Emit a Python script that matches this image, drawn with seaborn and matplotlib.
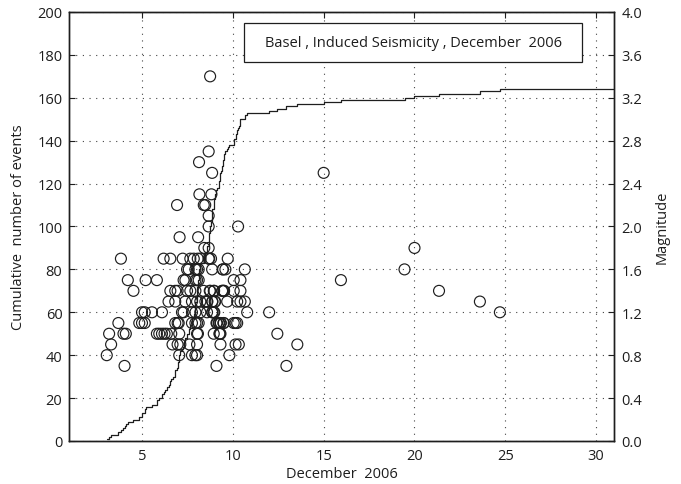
import numpy as np
import pandas as pd
import matplotlib
matplotlib.use("Agg")
import matplotlib.pyplot as plt
import seaborn as sns
from matplotlib.patches import Rectangle

# Basel induced seismicity, December 2006: event day and magnitude
event_day = [
    8.75,                                   # M 3.4
    8.67,                                   # M 2.7
    8.14,                                   # M 2.6
    8.86, 15.0,                             # M 2.5
    8.16, 8.82,                             # M 2.3
    6.93, 8.40, 8.48,                       # M 2.2
    8.67,                                   # M 2.1
    8.67, 10.29,                            # M 2.0
    7.07, 8.09,                             # M 1.9
    8.43, 8.67, 20.0,                       # M 1.8
    3.84, 6.19, 6.56, 7.24, 7.66, 7.85, 8.07, 8.22, 8.67, 8.70, 8.8, 9.72,
    7.48, 7.57, 7.94, 8.03, 8.12, 8.86, 9.44, 9.46, 9.59, 10.66, 19.45,
    4.22, 5.2, 5.82, 7.29, 7.39, 7.94, 8.03, 8.12, 10.05, 10.42, 15.95,
    4.53, 6.56, 6.83, 6.96, 7.48, 7.66, 7.94, 8.39, 8.73, 8.76, 8.95, 8.97,
    9.41, 9.43, 9.5, 9.52, 10.05, 10.42, 21.35,
    6.46, 6.83, 7.38, 7.75, 8.03, 8.21, 8.49, 8.58, 8.60, 8.86, 8.88, 9.0,
    9.03, 9.69, 10.24, 10.42, 10.66, 23.6,
    5.0, 5.15, 5.55, 6.1, 7.2, 7.29, 7.75, 7.94, 8.21, 8.58, 8.86, 8.88,
    8.95, 8.98, 10.79, 12.0, 24.7,
    3.7, 4.85, 5.0, 5.15, 6.83, 6.96, 7.02, 7.75, 7.94, 8.03, 8.12, 9.1,
    9.13, 9.22, 9.25, 9.32, 9.34, 9.48, 9.5, 10.05, 10.15, 10.24,
    3.19, 3.98, 4.11, 5.82, 5.95, 6.1, 6.24, 6.37, 6.61, 7.05, 8.03, 8.08,
    8.95, 9.26, 9.29, 9.32, 12.45,
    3.3, 6.68, 6.96, 7.11, 7.61, 8.03, 9.32, 10.15, 10.33, 13.55,
    3.06, 7.05, 7.75, 7.94, 8.03, 9.81,
    4.04, 9.1, 12.95,
]
event_mag = (
    [3.4] * 1 + [2.7] * 1 + [2.6] * 1 + [2.5] * 2 + [2.3] * 2 + [2.2] * 3
    + [2.1] * 1 + [2.0] * 2 + [1.9] * 2 + [1.8] * 3 + [1.7] * 12 + [1.6] * 11
    + [1.5] * 11 + [1.4] * 19 + [1.3] * 18 + [1.2] * 17 + [1.1] * 22
    + [1.0] * 17 + [0.9] * 10 + [0.8] * 6 + [0.7] * 3
)

x_ticks = [5, 10, 15, 20, 25, 30]
count_ticks = list(range(0, 201, 20))
mag_ticks = [0.0, 0.4, 0.8, 1.2, 1.6, 2.0, 2.4, 2.8, 3.2, 3.6, 4.0]
XMIN, XMAX = 1, 31

df = pd.DataFrame({"day": event_day, "mag": event_mag})

# cumulative number of events (step curve), carried to the right edge
days_sorted = np.sort(df["day"].values)
cum = pd.DataFrame({
    "day": np.r_[days_sorted, XMAX],
    "count": np.r_[np.arange(1, len(days_sorted) + 1), len(days_sorted)],
})

sns.set_style("white")
plt.rcParams["font.family"] = ["Open Sans", "DejaVu Sans"]
ink = "#1e1e1e"

fig = plt.figure(figsize=(6.81, 4.85), dpi=100)
ax = fig.add_axes([0.1018, 0.0887, 0.8003, 0.8845])
ax2 = ax.twinx()

sns.lineplot(data=cum, x="day", y="count", ax=ax, color=ink, lw=0.9,
             drawstyle="steps-post", estimator=None, sort=True)
sns.scatterplot(data=df, x="day", y="mag", ax=ax2, s=62, facecolor="none",
                edgecolor=ink, linewidth=0.85, legend=False)

grid_kw = dict(color="#444444", linestyle=(0, (1, 5)), linewidth=0.8)
ax.set_xlim(XMIN, XMAX)
ax.set_ylim(0, 200)
ax2.set_ylim(0, 4)
ax.set_xticks(x_ticks)
ax.set_yticks(count_ticks)
ax2.set_yticks(mag_ticks)
ax2.set_yticklabels([f"{m:.1f}" for m in mag_ticks])
ax.grid(True, **grid_kw)
ax2.grid(False)

for a in (ax, ax2):
    a.tick_params(direction="in", length=4, width=0.8, labelsize=10.5,
                  colors=ink, pad=5)
    for sp in a.spines.values():
        sp.set_color(ink)
        sp.set_linewidth(1.0)
ax.tick_params(axis="x", top=True)

ax.set_xlabel("December  2006", fontsize=10.5, color=ink, labelpad=2)
ax.set_ylabel("Cumulative  number of events", fontsize=10.5, color=ink, labelpad=8)
ax2.set_ylabel("Magnitude", fontsize=10.5, color=ink, labelpad=9)

ax2.add_patch(Rectangle((0.3206, 0.8828), 0.6207, 0.0909, transform=ax.transAxes,
                        facecolor="white", edgecolor=ink, linewidth=0.9, zorder=5))
ax2.text(0.631, 0.928, "Basel , Induced Seismicity , December  2006",
         transform=ax.transAxes, ha="center", va="center", fontsize=10.5,
         color=ink, zorder=6)

fig.savefig("out.png", dpi=100)
